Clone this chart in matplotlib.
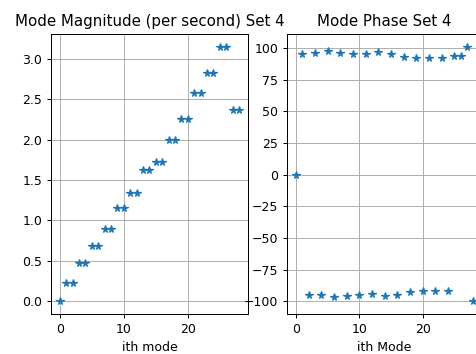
import numpy as np
import matplotlib
matplotlib.use("Agg")
import matplotlib.pyplot as plt

# mode index
modes = np.arange(29)

# magnitude per second
magnitude = [0.0,
             0.23, 0.23, 0.47, 0.47, 0.69, 0.69, 0.90, 0.90,
             1.15, 1.15, 1.34, 1.34, 1.63, 1.63, 1.72, 1.72,
             1.99, 1.99, 2.26, 2.26, 2.58, 2.58, 2.83, 2.83,
             3.15, 3.15, 2.37, 2.37]

# phase
phase = [0,
         95, -95, 96, -95, 98, -97, 96, -96,
         95, -95, 95, -94, 97, -96, 95, -95,
         93, -93, 92, -92, 92, -92, 92, -92,
         94, 94, 101, -100]

fig = plt.figure(figsize=(476 / 90, 354 / 90), dpi=90)

ax1 = fig.add_axes([0.107, 0.113, 0.414, 0.791])
ax1.plot(modes, magnitude, "*")
ax1.set_title("Mode Magnitude (per second) Set 4")
ax1.set_xlabel("ith mode")
ax1.grid(True)

ax2 = fig.add_axes([0.603, 0.113, 0.41, 0.791])
ax2.plot(modes, phase, "*")
ax2.set_title("Mode Phase Set 4")
ax2.set_xlabel("ith Mode")
ax2.grid(True)

fig.savefig("out.png", dpi=90)
